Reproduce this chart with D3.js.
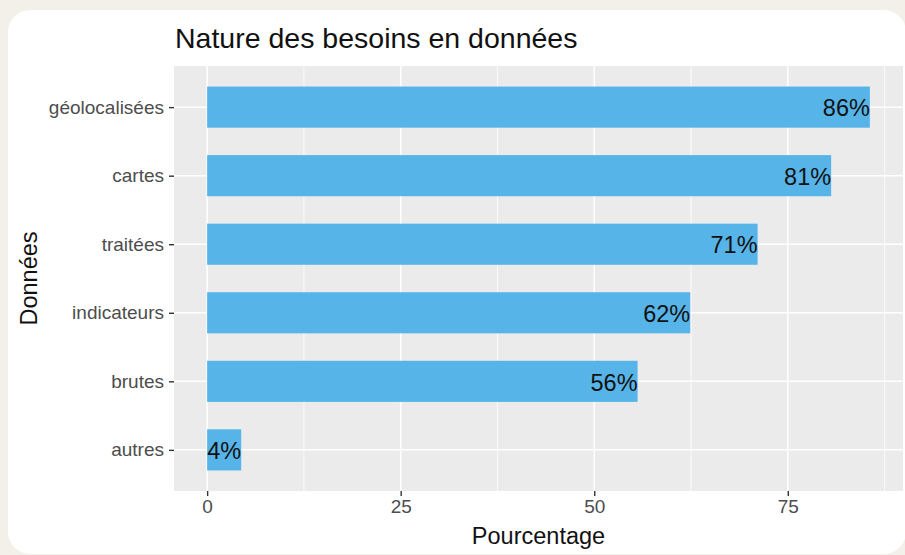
<!DOCTYPE html>
<html>
<head>
<meta charset="utf-8">
<script src="https://cdn.jsdelivr.net/npm/d3@7"></script>
<style>
  html, body { margin: 0; padding: 0; background: #f3efe9; }
  svg { display: block; }
  text { font-family: "Liberation Sans", Arial, Helvetica, sans-serif; }
</style>
</head>
<body>
<script>
// Data (top category first, as displayed)
const categories = ["géolocalisées", "cartes", "traitées", "indicateurs", "brutes", "autres"];
const values = [85.6, 80.6, 71.1, 62.4, 55.6, 4.4];
const xTicks = [0, 25, 50, 75];
const xMinorTicks = [12.5, 37.5, 62.5, 87.5];
const titleText = "Nature des besoins en données";
const xTitle = "Pourcentage";
const yTitle = "Données";

const W = 905, H = 555;
const svg = d3.select("body").append("svg").attr("width", W).attr("height", H);

// background and card
svg.append("rect").attr("x", 0).attr("y", 0).attr("width", W).attr("height", H).attr("fill", "#f3efe9");
svg.append("rect").attr("x", 8).attr("y", 10).attr("width", 898).attr("height", 544)
  .attr("rx", 22).attr("ry", 22).attr("fill", "#ffffff");

const panel = { left: 174, right: 903, top: 66, bottom: 491 };

const maxV = d3.max(values);
const pad = maxV * 0.05;
const x = d3.scaleLinear().domain([-pad, maxV + pad]).range([panel.left, panel.right]);
const y = d3.scalePoint().domain(categories).range([panel.top, panel.bottom]).padding(0.6);
const barH = y.step() * 0.6;

// panel background
svg.append("rect").attr("x", panel.left).attr("y", panel.top)
  .attr("width", panel.right - panel.left).attr("height", panel.bottom - panel.top)
  .attr("fill", "#ebebeb");

const g = svg.append("g");
// minor vertical grid
g.selectAll("line.minor").data(xMinorTicks.filter(d => x(d) <= panel.right)).enter().append("line")
  .attr("x1", d => x(d)).attr("x2", d => x(d)).attr("y1", panel.top).attr("y2", panel.bottom)
  .attr("stroke", "#ffffff").attr("stroke-width", 0.8);
// major vertical grid
g.selectAll("line.majx").data(xTicks).enter().append("line")
  .attr("x1", d => x(d)).attr("x2", d => x(d)).attr("y1", panel.top).attr("y2", panel.bottom)
  .attr("stroke", "#ffffff").attr("stroke-width", 1.5);
// major horizontal grid
g.selectAll("line.majy").data(categories).enter().append("line")
  .attr("x1", panel.left).attr("x2", panel.right).attr("y1", d => y(d)).attr("y2", d => y(d))
  .attr("stroke", "#ffffff").attr("stroke-width", 1.5);

// bars
const data = categories.map((c, i) => ({ c, v: values[i] }));
svg.selectAll("rect.bar").data(data).enter().append("rect")
  .attr("x", x(0)).attr("y", d => y(d.c) - barH / 2)
  .attr("width", d => x(d.v) - x(0)).attr("height", barH)
  .attr("fill", "#56B4E9");

// bar labels
svg.selectAll("text.lbl").data(data).enter().append("text")
  .attr("x", d => x(d.v)).attr("y", d => y(d.c) + 1)
  .attr("dy", "0.35em").attr("text-anchor", "end")
  .attr("font-size", 23.5).attr("fill", "#111111")
  .text(d => Math.round(d.v) + "%");

// x axis
const xAxis = svg.append("g").attr("transform", `translate(0,${panel.bottom})`)
  .call(d3.axisBottom(x).tickValues(xTicks).tickSize(5).tickPadding(4).tickFormat(d3.format("d")));
xAxis.select(".domain").remove();
xAxis.selectAll(".tick line").attr("stroke", "#333333").attr("stroke-width", 1.4);
xAxis.selectAll(".tick text").attr("font-size", 19).attr("fill", "#4d4d4d")
  .attr("font-family", "Liberation Sans, Arial, sans-serif");

// y axis
const yAxis = svg.append("g").attr("transform", `translate(${panel.left},0)`)
  .call(d3.axisLeft(y).tickSize(5).tickPadding(5));
yAxis.select(".domain").remove();
yAxis.selectAll(".tick line").attr("stroke", "#333333").attr("stroke-width", 1.4);
yAxis.selectAll(".tick text").attr("font-size", 19).attr("fill", "#4d4d4d")
  .attr("font-family", "Liberation Sans, Arial, sans-serif");

// titles
svg.append("text").attr("x", 175).attr("y", 48).attr("font-size", 28.5).attr("fill", "#111")
  .text(titleText);
svg.append("text").attr("x", (panel.left + panel.right) / 2).attr("y", 544)
  .attr("text-anchor", "middle").attr("font-size", 23.5).attr("fill", "#111").text(xTitle);
svg.append("text").attr("transform", `translate(37,${(panel.top + panel.bottom) / 2}) rotate(-90)`)
  .attr("text-anchor", "middle").attr("font-size", 23.5).attr("fill", "#111").text(yTitle);
</script>
</body>
</html>
